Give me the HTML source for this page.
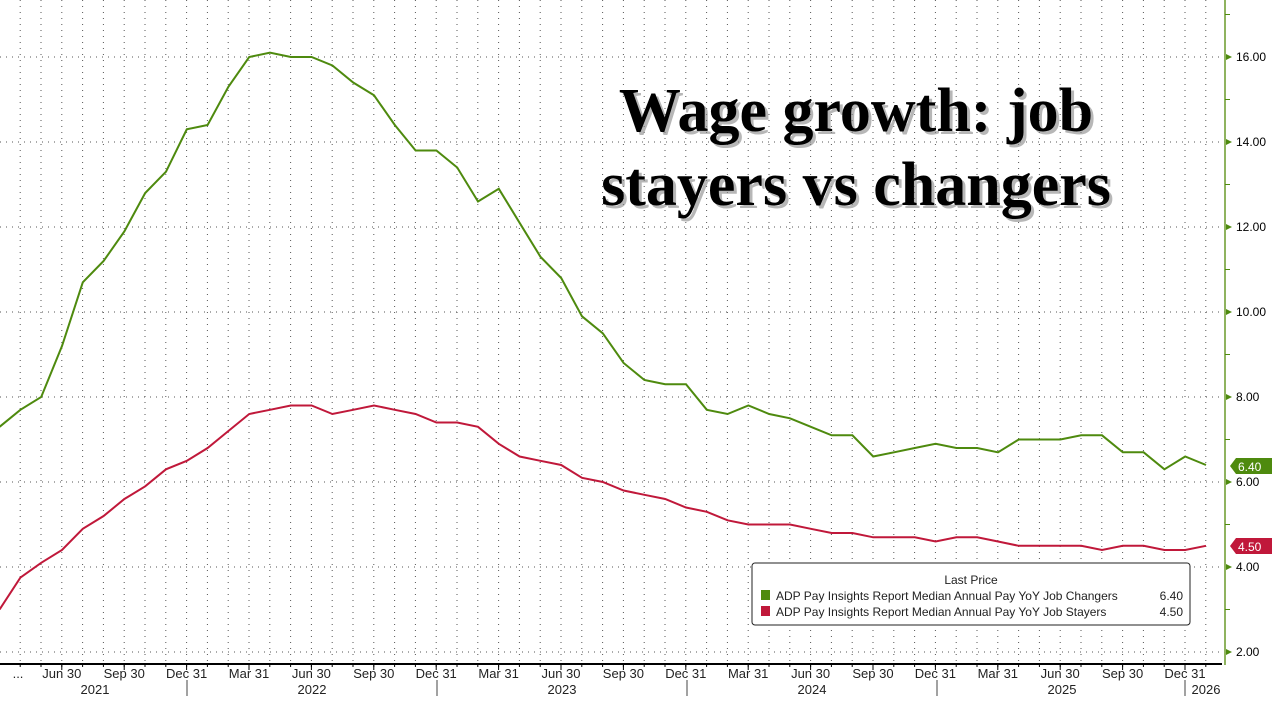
<!DOCTYPE html>
<html><head><meta charset="utf-8"><style>
body{margin:0;background:#fff;width:1275px;height:696px;overflow:hidden;font-family:"Liberation Sans",sans-serif}
</style></head><body>
<svg width="1275" height="696" xmlns="http://www.w3.org/2000/svg" font-family="Liberation Sans, sans-serif">
<g id="grid" stroke="#555" stroke-width="1" stroke-dasharray="1,5"></g>
<g font-family="Liberation Serif, serif" font-weight="bold" font-size="62" text-anchor="middle">
<text x="856" y="131" fill="#888" opacity="0.6" transform="translate(3,3)">Wage growth: job</text>
<text x="856" y="205" fill="#888" opacity="0.6" transform="translate(3,3)">stayers vs changers</text>
<text x="856" y="131" fill="#000">Wage growth: job</text>
<text x="856" y="205" fill="#000">stayers vs changers</text>
</g>
<polyline id="g" fill="none" stroke="#4e8a0e" stroke-width="2"/>
<polyline id="r" fill="none" stroke="#c0183a" stroke-width="2"/>
<line x1="1225" y1="0" x2="1225" y2="665" stroke="#6a9a2a" stroke-width="1.5"/>
<g id="yax" font-size="12" fill="#000"></g>
<polygon points="1230,466 1236,458 1272,458 1272,474 1236,474" fill="#4e8a0e"/>
<text x="1238" y="471" font-size="12" fill="#fff">6.40</text>
<polygon points="1230,546 1236,538 1272,538 1272,554 1236,554" fill="#c0183a"/>
<text x="1238" y="551" font-size="12" fill="#fff">4.50</text>
<line x1="0" y1="664" x2="1222" y2="664" stroke="#000" stroke-width="2"/>
<g id="xax" font-size="13" fill="#222"></g>
<rect x="752" y="563" width="438" height="62" rx="3" fill="#fff" stroke="#222" stroke-width="1"/>
<text x="971" y="584" font-size="12" text-anchor="middle" fill="#222">Last Price</text>
<rect x="761" y="590" width="9" height="10" fill="#4e8a0e"/>
<text x="776" y="600" font-size="12" fill="#222">ADP Pay Insights Report Median Annual Pay YoY Job Changers</text>
<text x="1183" y="600" font-size="12" fill="#222" text-anchor="end">6.40</text>
<rect x="761" y="606" width="9" height="10" fill="#c0183a"/>
<text x="776" y="616" font-size="12" fill="#222">ADP Pay Insights Report Median Annual Pay YoY Job Stayers</text>
<text x="1183" y="616" font-size="12" fill="#222" text-anchor="end">4.50</text>
</svg>
<script>
const G=[7.3,7.7,8.0,9.2,10.7,11.2,11.9,12.8,13.3,14.3,14.4,15.3,16.0,16.1,16.0,16.0,15.8,15.4,15.1,14.4,13.8,13.8,13.4,12.6,12.9,12.1,11.3,10.8,9.9,9.5,8.8,8.4,8.3,8.3,7.7,7.6,7.8,7.6,7.5,7.3,7.1,7.1,6.6,6.7,6.8,6.9,6.8,6.8,6.7,7.0,7.0,7.0,7.1,7.1,6.7,6.7,6.3,6.6,6.4];
const R=[3.0,3.75,4.1,4.4,4.9,5.2,5.6,5.9,6.3,6.5,6.8,7.2,7.6,7.7,7.8,7.8,7.6,7.7,7.8,7.7,7.6,7.4,7.4,7.3,6.9,6.6,6.5,6.4,6.1,6.0,5.8,5.7,5.6,5.4,5.3,5.1,5.0,5.0,5.0,4.9,4.8,4.8,4.7,4.7,4.7,4.6,4.7,4.7,4.6,4.5,4.5,4.5,4.5,4.4,4.5,4.5,4.4,4.4,4.5];
const M=20.8,n=G.length,X=i=>1206-(n-1-i)*M,Y=v=>652-(v-2)*42.5;
const ns="http://www.w3.org/2000/svg";
document.getElementById('g').setAttribute('points',G.map((v,i)=>X(i).toFixed(1)+','+Y(v).toFixed(1)).join(' '));
document.getElementById('r').setAttribute('points',R.map((v,i)=>X(i).toFixed(1)+','+Y(v).toFixed(1)).join(' '));
function el(p,t,a,txt){const e=document.createElementNS(ns,t);for(const k in a)e.setAttribute(k,a[k]);if(txt)e.textContent=txt;p.appendChild(e);return e;}
const grid=document.getElementById('grid'),yax=document.getElementById('yax'),xax=document.getElementById('xax');
for(let v=2;v<=16;v+=2){const y=Y(v);el(grid,'line',{x1:0,y1:y,x2:1222,y2:y});
 el(yax,'polygon',{points:`1226,${y-3} 1232,${y} 1226,${y+3}`,fill:'#4e8a0e'});
 el(yax,'text',{x:1236,y:y+4},v.toFixed(2));}
for(let v=3;v<=17;v+=2){const y=Y(v);el(yax,'line',{x1:1225,y1:y,x2:1230,y2:y,stroke:'#4e8a0e'});}
for(let x=1185-M*69;x<1222;x+=M){if(x>0){el(grid,'line',{x1:x,y1:0,x2:x,y2:662});el(xax,'line',{x1:x,y1:664,x2:x,y2:667,stroke:'#000'});}}
const labs=['Mar 31','Jun 30','Sep 30','Dec 31'];
for(let k=-19;k<=0;k++){const x=1185+k*3*M;if(x<40)continue;
 el(xax,'line',{x1:x,y1:664,x2:x,y2:670,stroke:'#000'});
 el(xax,'text',{x:x,y:678,'text-anchor':'middle'},labs[((k%4)+4+3)%4]);}
el(xax,'text',{x:18,y:678,'text-anchor':'middle'},'...');
[[2021,95],[2022,312],[2023,562],[2024,812],[2025,1062]].forEach(([y,x])=>el(xax,'text',{x:x,y:694,'text-anchor':'middle'},y));
[187,437,687,937,1185].forEach(x=>el(xax,'line',{x1:x,y1:680,x2:x,y2:696,stroke:'#444'}));
el(xax,'text',{x:1206,y:694,'text-anchor':'middle'},'2026');
</script>
</body></html>
